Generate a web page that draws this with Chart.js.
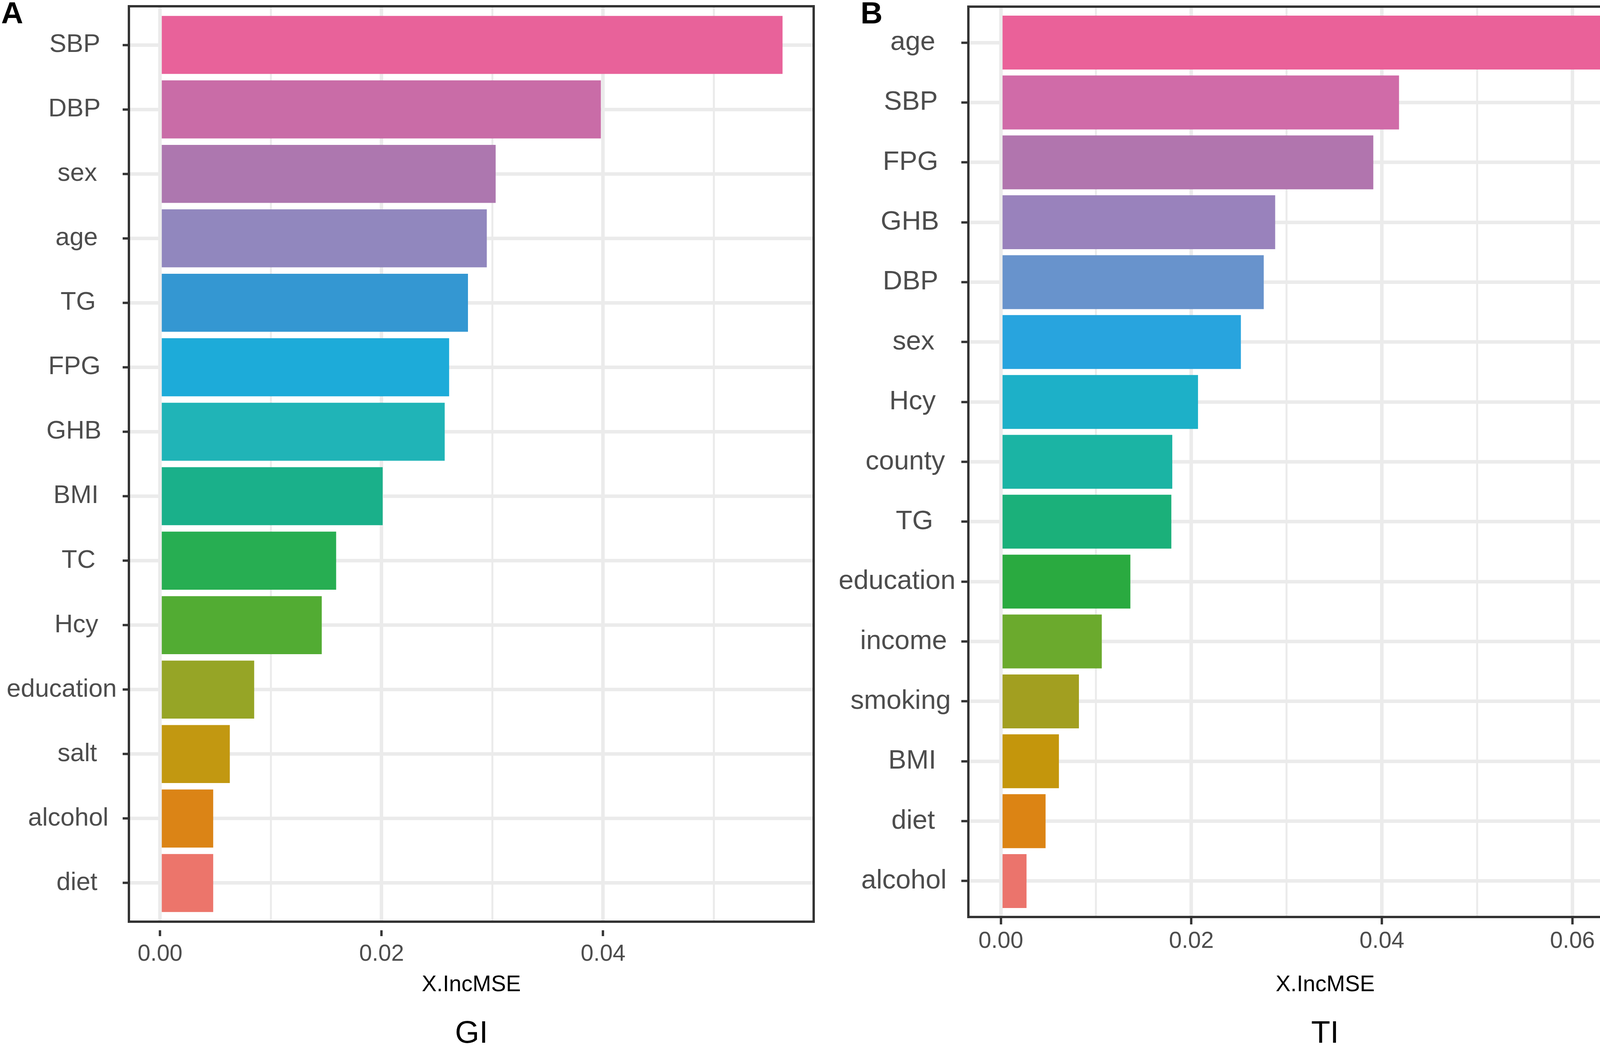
<!DOCTYPE html>
<html lang="en">
<head>
  <meta charset="UTF-8" />
  <title>X.IncMSE – GI / TI</title>
  <script src="https://cdn.jsdelivr.net/npm/chart.js"></script>
  <style>
    html, body {
      margin: 0;
      padding: 0;
      background: #ffffff;
    }
    #page {
      position: relative;
      width: 4317px;
      height: 2686px;
      overflow: hidden;
      background: #ffffff;
      font-family: "Liberation Sans", Arial, sans-serif;
    }
    canvas {
      position: absolute;
      top: 0;
    }
    .tag {
      position: absolute;
      font-weight: bold;
      font-size: 78px;
      line-height: 78px;
      color: #000;
    }
    .sub {
      position: absolute;
      width: 400px;
      text-align: center;
      font-size: 80px;
      line-height: 80px;
      color: #000;
    }
  </style>
</head>
<body>
<div id="page">
  <canvas id="chartGI" width="2150" height="2600" style="left:0"></canvas>
  <canvas id="chartTI" width="2167" height="2600" style="left:2150px"></canvas>
  <div class="tag" style="left:3px; top:-6px">A</div>
  <div class="tag" style="left:2203px; top:-6px">B</div>
  <div class="sub" style="left:1007px; top:2603px">GI</div>
  <div class="sub" style="left:3192px; top:2603px">TI</div>
</div>

<script>
  // panel A (GI)
  const giLabels = ['SBP', 'DBP', 'sex', 'age', 'TG', 'FPG', 'GHB', 'BMI', 'TC', 'Hcy', 'education', 'salt', 'alcohol', 'diet'];
  const giValues = [0.0562, 0.0398, 0.0303, 0.0295, 0.0278, 0.0261, 0.0257, 0.0201, 0.0159, 0.0146, 0.0085, 0.0063, 0.0048, 0.0048];
  const giTicks = [0, 0.02, 0.04];
  const giMinor = [0.01, 0.03, 0.05];

  // panel B (TI)
  const tiLabels = ['age', 'SBP', 'FPG', 'GHB', 'DBP', 'sex', 'Hcy', 'county', 'TG', 'education', 'income', 'smoking', 'BMI', 'diet', 'alcohol'];
  const tiValues = [0.0681, 0.0418, 0.0391, 0.0288, 0.0276, 0.0252, 0.0207, 0.0180, 0.0179, 0.0136, 0.0106, 0.0082, 0.0061, 0.0047, 0.0027];
  const tiTicks = [0, 0.02, 0.04, 0.06];
  const tiMinor = [0.01, 0.03, 0.05, 0.07];

  const axisTitle = 'X.IncMSE';

  // bar colours (top to bottom)
  const giColors = ['#E8629A', '#C96CA7', '#AD77AF', '#9187BE', '#3497D2', '#1DABD9', '#20B4B7',
                    '#1AB08A', '#27AE52', '#52AC33', '#96A526', '#C29811', '#DB8416', '#EC756B'];
  const tiColors = ['#EA6199', '#D06BA8', '#B175AE', '#9982BC', '#6893CC', '#28A4DE', '#1DB0C8', '#1BB4A4',
                    '#1BB07A', '#2AAA40', '#6BAA2D', '#A29F20', '#C4960C', '#DC8414', '#EB746C'];

  const FONT = '"Liberation Sans", Arial, sans-serif';

  // panel frame + y labels (ggplot style, labels nearly right aligned)
  const frameAndLabels = {
    id: 'frameAndLabels',
    afterDraw(chart, args, opts) {
      const { ctx, chartArea: a } = chart;
      const y = chart.scales.y;
      ctx.save();
      ctx.strokeStyle = '#333333';
      ctx.lineWidth = 6;
      ctx.strokeRect(a.left, a.top, a.right - a.left, a.bottom - a.top);

      ctx.font = opts.size + 'px ' + FONT;
      ctx.fillStyle = '#4D4D4D';
      ctx.textBaseline = 'middle';
      ctx.textAlign = 'left';
      const widths = opts.labels.map(t => ctx.measureText(t).width);
      const W = Math.max(...widths);
      const right = a.left - opts.tick - opts.gap;
      opts.labels.forEach((t, i) => {
        const x = right - W + opts.hjust * (W - widths[i]);
        ctx.fillText(t, x, y.getPixelForValue(i));
      });
      ctx.restore();
    }
  };

  function makeChart(id, labels, values, colors, major, minor, L) {
    const top = Math.max(...values);
    const isMajor = v => major.includes(v);
    const ticksAll = major.concat(minor).filter(v => v <= top * 1.05).sort((a, b) => a - b);

    return new Chart(document.getElementById(id), {
      type: 'bar',
      data: {
        datasets: [{
          data: values.map((v, i) => ({ x: v, y: i })),
          backgroundColor: colors,
          borderWidth: 0,
          barPercentage: 0.9,
          categoryPercentage: 1.0
        }]
      },
      options: {
        indexAxis: 'y',
        responsive: false,
        animation: false,
        devicePixelRatio: 1,
        layout: { padding: { left: 0, right: L.padRight, top: L.padTop, bottom: L.padBottom } },
        scales: {
          x: {
            type: 'linear',
            min: -0.05 * top,
            max: 1.05 * top,
            afterBuildTicks: s => { s.ticks = ticksAll.map(v => ({ value: v })); },
            afterFit: s => { s.height = L.xHeight; },
            border: { display: false },
            grid: {
              offset: false,
              color: '#EBEBEB',
              lineWidth: c => (c.tick && isMajor(c.tick.value)) ? 9 : 5,
              drawTicks: true,
              tickLength: L.xTick,
              tickWidth: 6,
              tickColor: c => (c.tick && isMajor(c.tick.value)) ? '#333333' : 'rgba(0,0,0,0)',
              tickBorderDash: L.xDash
            },
            ticks: {
              autoSkip: false,
              maxRotation: 0,
              padding: L.xPad,
              color: '#4D4D4D',
              font: { family: FONT, size: 59, lineHeight: 1 },
              callback: v => isMajor(v) ? v.toFixed(2) : ''
            },
            title: {
              display: true,
              text: axisTitle,
              color: '#000000',
              padding: 0,
              font: { family: FONT, size: 57, lineHeight: 1 }
            }
          },
          y: {
            type: 'linear',
            reverse: true,
            offset: false,
            min: -0.6,
            max: labels.length - 0.4,
            afterBuildTicks: s => { s.ticks = labels.map((_, i) => ({ value: i })); },
            afterFit: s => { s.width = L.yWidth; },
            border: { display: false },
            ticks: { display: false },
            grid: {
              offset: false,
              color: '#EBEBEB',
              lineWidth: 9,
              drawTicks: true,
              tickLength: L.yTick,
              tickWidth: 6,
              tickColor: '#333333'
            }
          }
        },
        plugins: {
          legend: { display: false },
          tooltip: { enabled: false },
          frameAndLabels: { labels: labels, size: L.labelSize, tick: L.yTick, gap: 15, hjust: 0.72 }
        }
      },
      plugins: [frameAndLabels]
    });
  }

  makeChart('chartGI', giLabels, giValues, giColors, giTicks, giMinor, {
    yWidth: 330, padRight: 67, padTop: 16, padBottom: 49, xHeight: 191,
    yTick: 16, xTick: 37, xDash: [0, 22, 15, 400], xPad: 17, labelSize: 65
  });

  makeChart('chartTI', tiLabels, tiValues, tiColors, tiTicks, tiMinor, {
    yWidth: 329, padRight: 11, padTop: 17, padBottom: 49, xHeight: 203,
    yTick: 18, xTick: 19, xDash: [], xPad: 14, labelSize: 69
  });
</script>
</body>
</html>
